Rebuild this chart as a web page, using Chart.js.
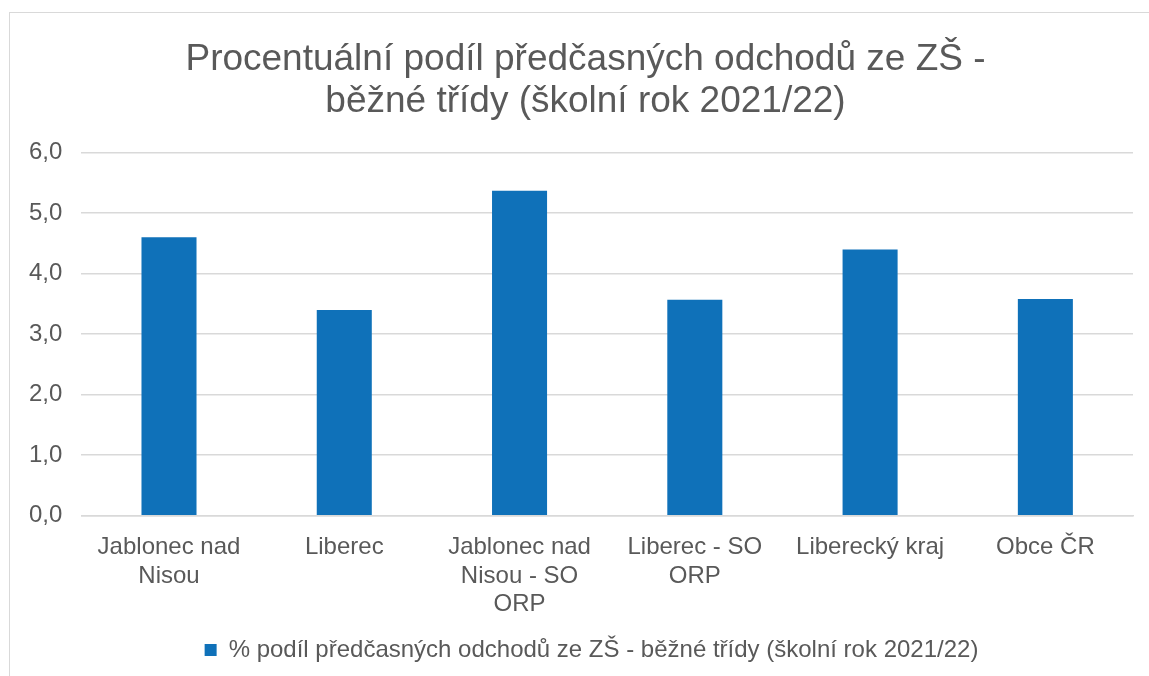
<!DOCTYPE html>
<html>
<head>
<meta charset="utf-8">
<script src="https://cdn.jsdelivr.net/npm/chart.js@4"></script>
<style>
  html, body { margin: 0; padding: 0; background: #fff; overflow: hidden; }
  #frame { position: absolute; left: 9px; top: 12px; width: 1200px; height: 700px; border: 1px solid #d9d9d9; }
  #wrap { position: absolute; left: 0; top: 0; width: 1149px; height: 676px; }
</style>
</head>
<body>
<div id="frame"></div>
<div id="wrap"><canvas id="chart"></canvas></div>
<script>
// data
const categories = [
  ['Jablonec nad', 'Nisou'],
  'Liberec',
  ['Jablonec nad', 'Nisou - SO', 'ORP'],
  ['Liberec - SO', 'ORP'],
  'Liberecký kraj',
  'Obce ČR'
];
const values = [4.60, 3.40, 5.37, 3.57, 4.40, 3.58];
const seriesName = '% podíl předčasných odchodů ze ZŠ - běžné třídy (školní rok 2021/22)';
const titleLines = ['Procentuální podíl předčasných odchodů ze ZŠ -', 'běžné třídy (školní rok 2021/22)'];

const txt = '#595959';
const font = 'Liberation Sans, Arial, sans-serif';

// title and legend sit a bit right of the plot centre in the original
const boxShift = {
  id: 'boxShift',
  afterLayout(chart) {
    const lg = chart.legend;
    lg.left += 20;
    lg.right += 20;
    const tt = chart.titleBlock;
    tt.left += 14;
    tt.right += 14;
  }
};

new Chart(document.getElementById('chart'), {
  type: 'bar',
  data: {
    labels: categories,
    datasets: [{
      label: seriesName,
      data: values,
      backgroundColor: '#0f71b9',
      borderWidth: 0,
      categoryPercentage: 1,
      barPercentage: 0.314
    }]
  },
  options: {
    responsive: true,
    maintainAspectRatio: false,
    animation: false,
    layout: { padding: { left: 10, right: 16, top: 39, bottom: 4 } },
    plugins: {
      title: {
        display: true,
        text: titleLines,
        color: txt,
        font: { family: font, size: 37, weight: 'normal', lineHeight: 1.13 },
        padding: { top: 0, bottom: 30 }
      },
      legend: {
        position: 'bottom',
        labels: {
          color: txt,
          font: { family: font, size: 24 },
          boxWidth: 12,
          boxHeight: 12,
          padding: 10
        }
      },
      tooltip: { enabled: false }
    },
    scales: {
      x: {
        grid: { display: false },
        border: { color: '#d9d9d9', width: 1.5 },
        ticks: {
          color: txt,
          font: { family: font, size: 24, lineHeight: 1.17 },
          maxRotation: 0,
          padding: 10
        }
      },
      y: {
        min: 0,
        max: 6,
        ticks: {
          stepSize: 1,
          color: txt,
          font: { family: font, size: 24 },
          padding: 19,
          callback: v => v.toFixed(1).replace('.', ',')
        },
        grid: { color: '#d9d9d9', lineWidth: 1.5, drawTicks: false },
        border: { display: false }
      }
    }
  },
  plugins: [boxShift]
});
</script>
</body>
</html>
